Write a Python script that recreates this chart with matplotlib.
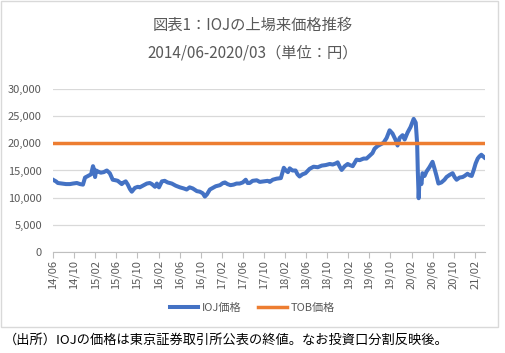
import matplotlib
matplotlib.use("Agg")
import matplotlib.pyplot as plt
import matplotlib.dates as mdates
import pandas as pd
from matplotlib.patches import Rectangle
from matplotlib.ticker import FuncFormatter, MultipleLocator

plt.rcParams['font.family'] = ['Noto Sans CJK JP', 'DejaVu Sans']

title1 = "図表1：IOJの上場来価格推移"
title2 = "2014/06-2020/03（単位：円）"
footnote = "（出所）IOJの価格は東京証券取引所公表の終値。なお投資口分割反映後。"
series_names = ["IOJ価格", "TOB価格"]
tob_price = 20000

dates = [
    "2014-06-01", "2014-06-18", "2014-06-29", "2014-07-22", "2014-08-15", "2014-09-07",
    "2014-09-24", "2014-10-17", "2014-11-04", "2014-11-21", "2014-12-03", "2014-12-20",
    "2015-01-07", "2015-01-18", "2015-01-24", "2015-01-30", "2015-02-05", "2015-02-16",
    "2015-03-04", "2015-03-21", "2015-04-08", "2015-04-25", "2015-05-12", "2015-05-29",
    "2015-06-10", "2015-07-03", "2015-07-14", "2015-07-26", "2015-08-07", "2015-08-19",
    "2015-08-30", "2015-09-17", "2015-10-04", "2015-10-15", "2015-11-08", "2015-11-25",
    "2015-12-12", "2015-12-24", "2016-01-11", "2016-01-22", "2016-02-03", "2016-02-20",
    "2016-03-07", "2016-03-24", "2016-04-17", "2016-05-10", "2016-06-03", "2016-06-25",
    "2016-07-12", "2016-07-29", "2016-08-16", "2016-09-09", "2016-09-26", "2016-10-13",
    "2016-10-25", "2016-11-06", "2016-11-23", "2016-12-10", "2016-12-27", "2017-01-20",
    "2017-02-07", "2017-02-18", "2017-03-05", "2017-03-22", "2017-04-09", "2017-04-26",
    "2017-05-14", "2017-06-01", "2017-06-18", "2017-06-29", "2017-07-11", "2017-07-28",
    "2017-08-21", "2017-09-07", "2017-10-01", "2017-10-23", "2017-11-04", "2017-11-21",
    "2017-12-14", "2018-01-07", "2018-01-24", "2018-02-05", "2018-02-17", "2018-02-27",
    "2018-03-15", "2018-04-02", "2018-04-13", "2018-04-25", "2018-05-12", "2018-05-29",
    "2018-06-22", "2018-07-15", "2018-08-08", "2018-08-31", "2018-09-23", "2018-10-16",
    "2018-11-03", "2018-11-20", "2018-12-01", "2018-12-13", "2018-12-24", "2019-01-11",
    "2019-01-28", "2019-02-09", "2019-02-26", "2019-03-20", "2019-04-07", "2019-04-30",
    "2019-05-17", "2019-06-03", "2019-06-20", "2019-07-02", "2019-07-19", "2019-08-06",
    "2019-08-23", "2019-09-10", "2019-09-27", "2019-10-14", "2019-11-01", "2019-11-12",
    "2019-11-24", "2019-12-11", "2019-12-23", "2020-01-09", "2020-01-26", "2020-02-13",
    "2020-02-25", "2020-03-04", "2020-03-08", "2020-03-13", "2020-03-18", "2020-03-29",
    "2020-04-04", "2020-04-16", "2020-04-27", "2020-05-14", "2020-06-01", "2020-06-12",
    "2020-06-24", "2020-07-05", "2020-07-22", "2020-08-09", "2020-08-21", "2020-09-08",
    "2020-09-25", "2020-10-06", "2020-10-18", "2020-11-04", "2020-11-22", "2020-12-03",
    "2020-12-20", "2021-01-02", "2021-01-13", "2021-01-24", "2021-02-05", "2021-02-17",
    "2021-02-27", "2021-03-10", "2021-03-27",
]
ioj_price = [
    13300, 13000, 12700, 12600, 12500, 12500,
    12600, 12700, 12500, 12400, 13700, 14000,
    14300, 15800, 15200, 13800, 15000, 14800,
    14600, 14700, 15000, 14500, 13300, 13200,
    13100, 12500, 12800, 13000, 12400, 11600,
    11100, 11800, 12000, 11900, 12300, 12600,
    12700, 12500, 12000, 12600, 11900, 13000,
    13100, 12800, 12600, 12200, 11900, 11700,
    11500, 11900, 11700, 11200, 11100, 10800,
    10200, 10600, 11500, 11800, 12100, 12300,
    12700, 12800, 12500, 12300, 12400, 12600,
    12600, 12800, 13300, 12700, 12700, 13100,
    13200, 12900, 13000, 13100, 12900, 13300,
    13500, 13600, 15500, 15000, 14700, 15400,
    15000, 15000, 14300, 13900, 14300, 14500,
    15300, 15700, 15600, 15900, 16000, 16200,
    16100, 16300, 16500, 15700, 15100, 15800,
    16200, 16000, 15800, 17000, 16900, 17200,
    17200, 17700, 18200, 19000, 19500, 19800,
    20100, 21000, 22400, 21800, 20600, 19600,
    21000, 21500, 20700, 22000, 23000, 24500,
    23800, 20000, 14800, 9900, 13500, 12500,
    14500, 14000, 14800, 15600, 16600, 15400,
    14000, 12600, 12800, 13300, 13800, 14200,
    14500, 13800, 13300, 13700, 13800, 14000,
    14400, 14100, 14000, 15000, 16300, 17200,
    17600, 17900, 17400,
]

x_start = "2014-06-01"
x_end = "2021-03-31"

fig = plt.figure(figsize=(5.05, 3.53), dpi=100)
# chart border
fig.patches.append(Rectangle((1/505, 1 - 327/353), 497/505, 326/353,
                             transform=fig.transFigure, fill=False,
                             edgecolor='#D9D9D9', linewidth=1.0))

ax = fig.add_axes([53/505, 1 - 252/353, (485 - 53)/505, (252 - 89)/353])
d = pd.to_datetime(dates)
ax.plot(d, ioj_price, color='#4472C4', linewidth=2.9, label=series_names[0],
        solid_joinstyle='round', zorder=3)
ax.axhline(tob_price, color='#ED7D31', linewidth=2.5, label=series_names[1], zorder=4)

ax.set_xlim(pd.Timestamp(x_start), pd.Timestamp(x_end))
ax.set_ylim(0, 30000)
ax.yaxis.set_major_locator(MultipleLocator(5000))
ax.yaxis.set_major_formatter(FuncFormatter(lambda v, p: f"{int(v):,}"))
ax.xaxis.set_major_locator(mdates.MonthLocator(bymonth=[2, 6, 10]))
ax.xaxis.set_major_formatter(mdates.DateFormatter('%y/%m'))
ax.grid(axis='y', color='#D9D9D9', linewidth=0.9)
ax.set_axisbelow(True)
for s in ['top', 'right', 'left']:
    ax.spines[s].set_visible(False)
ax.spines['bottom'].set_color('#BFBFBF')
ax.tick_params(axis='y', length=0, labelsize=8, labelcolor='#595959', pad=8)
ax.tick_params(axis='x', length=4, color='#BFBFBF', labelsize=8,
               labelcolor='#595959', labelrotation=90, pad=2)

fig.text(0.5, 1 - 25/353, title1, ha='center', va='center', fontsize=11, color='#595959')
fig.text(0.5, 1 - 53/353, title2, ha='center', va='center', fontsize=11, color='#595959')

leg = fig.legend(loc='center', bbox_to_anchor=(252/505, 1 - 308/353), ncol=2,
                 frameon=False, fontsize=8, handlelength=2.6, columnspacing=1.5,
                 handletextpad=0.3)
for t in leg.get_texts():
    t.set_color('#595959')

fig.text(4/505, 1 - 340/353, footnote, ha='left', va='center', fontsize=9.5, color='black')

fig.savefig('out.png', dpi=100)
